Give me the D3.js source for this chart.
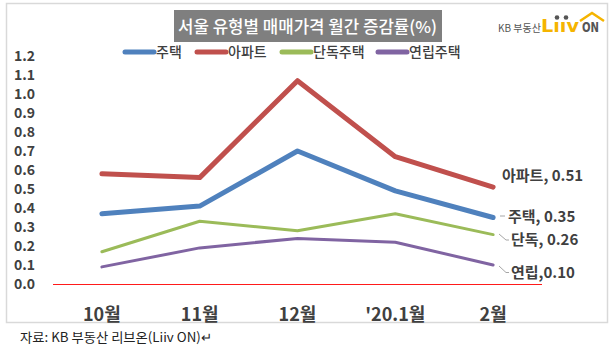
<!DOCTYPE html>
<html><head><meta charset="utf-8">
<script src="https://cdn.jsdelivr.net/npm/d3@7/dist/d3.min.js"></script>
<style>
body{margin:0;background:#fff;}
svg{display:block;font-family:"Noto Sans CJK KR","Noto Sans",sans-serif;}
</style></head>
<body>
<svg id="chart" width="612" height="347"></svg>
<script>
const categories = ["10월","11월","12월","'20.1월","2월"];
const seriesNames = ["주택","아파트","단독주택","연립주택"];
const housing   = [0.37,0.41,0.70,0.49,0.35];
const apartment = [0.58,0.56,1.07,0.67,0.51];
const detached  = [0.17,0.33,0.28,0.37,0.26];
const rowhouse  = [0.09,0.19,0.24,0.22,0.10];
const yTicks = [0,0.1,0.2,0.3,0.4,0.5,0.6,0.7,0.8,0.9,1.0,1.1,1.2];
const endLabels = ["주택, 0.35","아파트, 0.51","단독, 0.26","연립,0.10"];
const titleText = "서울 유형별 매매가격 월간 증감률(%)";
const sourceText = "자료: KB 부동산  리브온(Liiv ON)↵";

const colors = ["#4f81bd","#c0504d","#9bbb59","#8064a2"];
const widths = [5,5,3,3];
const seriesData = [housing, apartment, detached, rowhouse];

const svg = d3.select("#chart");
const textColor = "#404040";

// outer frame
svg.append("rect").attr("x",6.5).attr("y",3.5).attr("width",601).attr("height",319)
  .attr("fill","none").attr("stroke","#d9d9d9").attr("stroke-width",1.5);

// title box
svg.append("rect").attr("x",174).attr("y",10).attr("width",268).attr("height",32).attr("fill","#7f7f7f");
svg.append("text").attr("x",307.5).attr("y",33).attr("text-anchor","middle")
  .attr("fill","#fff").attr("font-size",16.5).attr("font-weight",500)
  .attr("textLength",259).attr("lengthAdjust","spacingAndGlyphs").text(titleText);

// logo
svg.append("text").attr("x",498).attr("y",31.5).attr("font-size",10).attr("fill","#555").text("KB 부동산");
svg.append("text").attr("x",541).attr("y",32).attr("font-size",17).attr("font-weight",900)
  .attr("fill","#f5b400").attr("font-family","DejaVu Sans").attr("textLength",38)
  .attr("lengthAdjust","spacingAndGlyphs").text("Lııv");
[[557,17.5],[566,17.5]].forEach(p=>svg.append("circle").attr("cx",p[0]).attr("cy",p[1]).attr("r",2.3).attr("fill","#555"));
svg.append("text").attr("x",582).attr("y",32).attr("font-size",14).attr("font-weight",900)
  .attr("fill","#555").attr("font-family","DejaVu Sans").attr("textLength",17)
  .attr("lengthAdjust","spacingAndGlyphs").text("ON");
svg.append("polyline").attr("points","580,21 592,13 604,21").attr("fill","none")
  .attr("stroke","#f5b400").attr("stroke-width",2.5);

// scales
const x = d3.scaleBand().domain(categories).range([53,542]);
const y = d3.scaleLinear().domain([0,1.2]).range([284,56]);
const cx = c => x(c) + x.bandwidth()/2;

// y axis labels
const yAxis = d3.axisLeft(y).tickValues(yTicks).tickFormat(d3.format(".1f")).tickSize(0).tickPadding(0);
const ya = svg.append("g").attr("transform","translate(35,0)").call(yAxis);
ya.select(".domain").remove();
ya.selectAll("text").attr("fill",textColor).attr("font-size",14).attr("font-weight",700)
  .attr("font-family","'Noto Sans CJK KR',sans-serif");

// x axis labels
const xAxis = d3.axisBottom(x).tickSize(0).tickPadding(0);
const xa = svg.append("g").attr("transform","translate(0,0)").call(xAxis);
xa.select(".domain").remove();
xa.selectAll("text").attr("dy",null).attr("y",321).attr("fill",textColor)
  .attr("font-size",18).attr("font-weight",700).attr("font-family","'Noto Sans CJK KR',sans-serif");

// zero line
svg.append("line").attr("x1",53).attr("x2",542).attr("y1",y(0)+0.5).attr("y2",y(0)+0.5)
  .attr("stroke","#ff1a1a").attr("stroke-width",1.2);

// lines
const line = d3.line().x((d,i)=>cx(categories[i])).y(d=>y(d));
seriesData.forEach((s,k)=>{
  svg.append("path").datum(s).attr("d",line).attr("fill","none")
    .attr("stroke",colors[k]).attr("stroke-width",widths[k])
    .attr("stroke-linecap","round").attr("stroke-linejoin","round");
});

// legend
const legX = [125,197,282,378];
seriesNames.forEach((n,k)=>{
  svg.append("line").attr("x1",legX[k]).attr("x2",legX[k]+29).attr("y1",52).attr("y2",52)
    .attr("stroke",colors[k]).attr("stroke-width",5).attr("stroke-linecap","round");
  svg.append("text").attr("x",legX[k]+31).attr("y",57).attr("font-size",14).attr("font-weight",500)
    .attr("fill",textColor).text(n);
});

// end labels with leader lines
const labelPos = [
  {lx:508, ly:217, leader:[[500,216],[505,216]]},
  {lx:502, ly:176, leader:null},
  {lx:511, ly:240, leader:[[499,234],[506,240],[509,240]]},
  {lx:511, ly:273, leader:[[499,266],[506,272.5],[509,272.5]]}
];
seriesData.forEach((s,k)=>{
  const p = labelPos[k];
  if(p.leader){
    svg.append("polyline").attr("points",p.leader.map(q=>q.join(",")).join(" "))
      .attr("fill","none").attr("stroke","#a6a6a6").attr("stroke-width",1);
  }
  svg.append("text").attr("x",p.lx).attr("y",p.ly).attr("dy","0.35em")
    .attr("font-size",15).attr("font-weight",700).attr("fill",textColor).text(endLabels[k]);
});

// source
svg.append("text").attr("x",20).attr("y",342).attr("font-size",13).attr("fill","#222")
  .attr("textLength",192).attr("lengthAdjust","spacingAndGlyphs").text(sourceText);
</script>
</body></html>
